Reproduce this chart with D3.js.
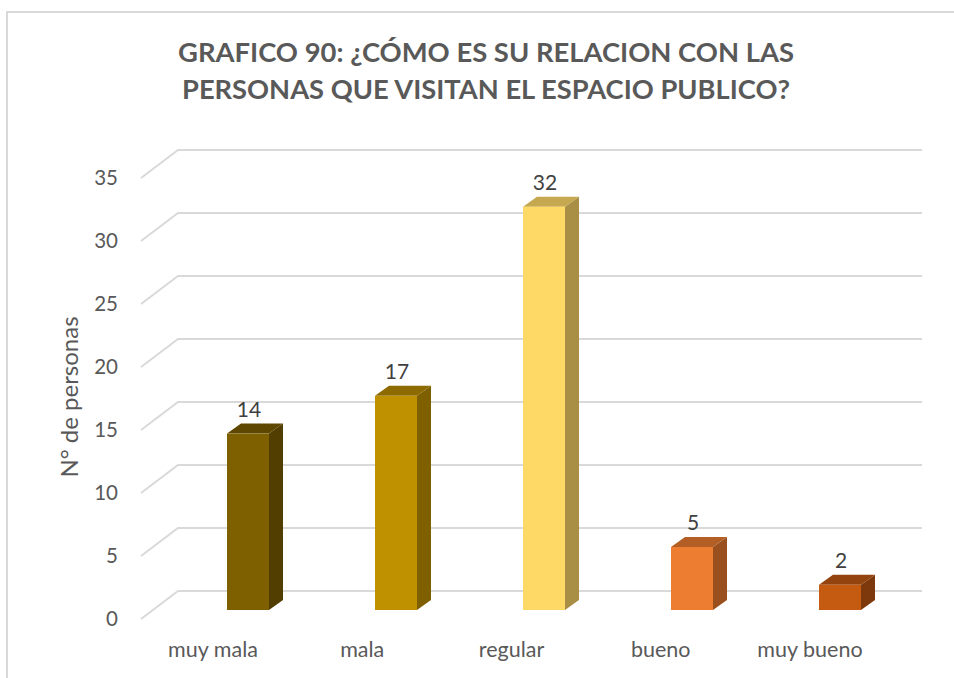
<!DOCTYPE html>
<html>
<head>
<meta charset="utf-8">
<script src="https://cdn.jsdelivr.net/npm/d3@7"></script>
<style>
  html, body { margin: 0; padding: 0; background: #fff; }
  svg { display: block; }
</style>
</head>
<body>
<svg id="chart" width="954" height="678"></svg>
<script>
// Survey answers: relationship with people visiting the public space
const categories = ["muy mala", "mala", "regular", "bueno", "muy bueno"];
const values = [14, 17, 32, 5, 2];
const yTicks = [0, 5, 10, 15, 20, 25, 30, 35];
const frontColors = ["#7f6000", "#bf9000", "#ffd966", "#ed7d31", "#c55a11"];
const topColors   = ["#5e4700", "#8d6b00", "#c5a84f", "#b35e24", "#93430d"];
const sideColors  = ["#523e00", "#7f6000", "#a88f45", "#9a501e", "#7d390b"];
const titleLines = [
  "GRAFICO 90: ¿CÓMO ES SU RELACION CON LAS",
  "PERSONAS QUE VISITAN EL ESPACIO PUBLICO?"
];
const yTitle = "N° de personas";

const svg = d3.select("#chart");
const font = "Lato, 'Open Sans', sans-serif";
const textColor = "#595959";
const gridColor = "#d9d9d9";

// chart frame
svg.append("rect")
  .attr("x", 7).attr("y", 12)
  .attr("width", 1000).attr("height", 1000)
  .attr("fill", "none").attr("stroke", gridColor).attr("stroke-width", 2);

// title
svg.append("g").selectAll("text")
  .data(titleLines)
  .join("text")
  .attr("x", 486)
  .attr("y", (d, i) => 62 + i * 37)
  .attr("text-anchor", "middle")
  .attr("font-family", font)
  .attr("font-weight", "bold")
  .attr("font-size", 26.5)
  .attr("fill", textColor)
  .attr("textLength", (d, i) => i === 0 ? 616 : 608)
  .attr("lengthAdjust", "spacingAndGlyphs")
  .text(d => d);

// 3D projection: back wall and floor depth offsets
const depth = { dx: 37, dy: 28 };      // floor depth (back wall -> front edge)
const barDepth = { dx: 14, dy: 10 };   // bar thickness
const backLeft = 178, backRight = 922;

const yBack = d3.scaleLinear().domain([0, 35]).range([591, 150]);
const yBar = v => yBack(v) + 19;       // bars stand slightly behind the front edge

const xLabel = d3.scalePoint().domain(categories).range([213, 810]);
const xBar = d3.scalePoint().domain(categories).range([227, 819]);
const barW = 42;

// gridlines: back wall line + diagonal on the side wall
const grid = svg.append("g")
  .attr("stroke", gridColor).attr("stroke-width", 2).attr("fill", "none");
yTicks.forEach(t => {
  grid.append("path")
    .attr("d", `M${backLeft - depth.dx},${yBack(t) + depth.dy}L${backLeft},${yBack(t)}L${backRight},${yBack(t)}`);
});

// y tick labels
svg.append("g").selectAll("text")
  .data(yTicks)
  .join("text")
  .attr("x", 118)
  .attr("y", d => yBack(d) + depth.dy)
  .attr("dy", "0.36em")
  .attr("text-anchor", "end")
  .attr("font-family", font)
  .attr("font-size", 20.5)
  .attr("fill", textColor)
  .text(d => d);

// y axis title
svg.append("text")
  .attr("transform", "translate(78,397) rotate(-90)")
  .attr("text-anchor", "middle")
  .attr("font-family", font)
  .attr("font-size", 24)
  .attr("fill", textColor)
  .text(yTitle);

// bars
const bars = svg.append("g").selectAll("g")
  .data(categories.map((c, i) => ({ c, v: values[i], i })))
  .join("g");

bars.each(function (d) {
  const g = d3.select(this);
  const x0 = xBar(d.c), x1 = x0 + barW;
  const yt = yBar(d.v), yb = yBar(0);
  const { dx, dy } = barDepth;
  g.append("path")
    .attr("d", `M${x1},${yt}L${x1 + dx},${yt - dy}L${x1 + dx},${yb - dy}L${x1},${yb}Z`)
    .attr("fill", sideColors[d.i]);
  g.append("path")
    .attr("d", `M${x0},${yt}L${x0 + dx},${yt - dy}L${x1 + dx},${yt - dy}L${x1},${yt}Z`)
    .attr("fill", topColors[d.i]);
  g.append("rect")
    .attr("x", x0).attr("y", yt)
    .attr("width", barW).attr("height", yb - yt)
    .attr("fill", frontColors[d.i]);
  g.append("text")
    .attr("x", x0 + barW / 2 + 1)
    .attr("y", yt - barDepth.dy - 7)
    .attr("text-anchor", "middle")
    .attr("font-family", font)
    .attr("font-size", 21)
    .attr("fill", "#404040")
    .text(d.v);
});

// category labels
svg.append("g").selectAll("text")
  .data(categories)
  .join("text")
  .attr("x", d => xLabel(d))
  .attr("y", 657)
  .attr("text-anchor", "middle")
  .attr("font-family", font)
  .attr("font-size", 21.5)
  .attr("fill", textColor)
  .text(d => d);
</script>
</body>
</html>
